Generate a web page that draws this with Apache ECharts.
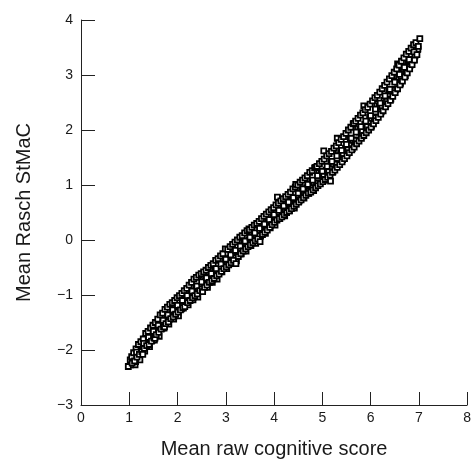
<!DOCTYPE html>
<html>
<head>
<meta charset="utf-8">
<script src="https://cdn.jsdelivr.net/npm/echarts@6/dist/echarts.min.js"></script>
<style>html,body{margin:0;padding:0;background:#fff;}#c{width:474px;height:464px;}</style>
</head>
<body>
<div id="c"></div>
<script>
const xTicks = [0, 1, 2, 3, 4, 5, 6, 7, 8];
const yTicks = [-3, -2, -1, 0, 1, 2, 3, 4];
const xTitle = 'Mean raw cognitive score';
const yTitle = 'Mean Rasch StMaC';

const rawScore = [
  0.98,1.02,1.05,1.06,1.09,1.11,
  1.14,1.16,1.15,1.19,1.21,1.24,1.26,1.28,
  1.29,1.31,1.30,1.34,1.36,1.39,1.41,1.40,
  1.44,1.46,1.49,1.51,1.50,1.53,1.54,1.56,
  1.59,1.61,1.60,1.64,1.66,1.69,1.71,1.70,1.73,
  1.74,1.76,1.79,1.81,1.80,1.84,1.86,1.89,1.91,1.90,
  1.94,1.96,1.99,2.01,2.00,2.04,2.06,2.09,2.11,2.10,
  2.14,2.15,2.19,2.21,2.20,2.24,2.26,2.29,2.31,2.30,
  2.34,2.36,2.39,2.41,2.40,2.44,2.46,2.49,2.51,2.50,2.52,
  2.54,2.56,2.59,2.61,2.60,2.64,2.66,2.69,2.71,2.70,
  2.74,2.76,2.79,2.81,2.80,2.84,2.86,2.89,2.91,2.90,
  2.94,2.96,2.99,3.01,3.00,3.04,3.06,3.09,3.11,3.10,
  3.14,3.16,3.19,3.21,3.20,3.24,3.26,3.29,3.31,3.30,
  3.34,3.36,3.39,3.41,3.40,3.44,3.46,3.48,3.49,3.51,3.50,
  3.54,3.56,3.59,3.61,3.60,3.64,3.66,3.69,3.71,3.70,
  3.74,3.76,3.79,3.81,3.80,3.84,3.86,3.89,3.91,3.90,
  3.94,3.96,3.99,4.01,4.00,4.04,4.06,4.07,4.09,4.11,4.10,
  4.14,4.16,4.19,4.21,4.20,4.24,4.26,4.29,4.31,4.30,
  4.34,4.36,4.39,4.41,4.40,4.44,4.46,4.45,4.49,4.51,4.50,
  4.54,4.56,4.59,4.61,4.60,4.64,4.66,4.69,4.71,4.70,
  4.74,4.76,4.79,4.81,4.80,4.84,4.86,4.86,4.89,4.91,4.90,
  4.94,4.96,4.99,5.01,5.00,5.03,5.04,5.06,5.09,5.11,5.10,
  5.14,5.16,5.17,5.19,5.21,5.20,5.24,5.26,5.29,5.31,5.30,5.31,
  5.34,5.36,5.39,5.41,5.40,5.44,5.46,5.49,5.51,5.50,
  5.54,5.56,5.59,5.61,5.60,5.64,5.65,5.66,5.69,5.71,5.70,
  5.74,5.76,5.79,5.81,5.80,5.84,5.86,5.86,5.89,5.91,5.90,
  5.94,5.96,5.99,6.01,6.00,6.04,6.06,6.09,6.11,6.10,
  6.14,6.16,6.19,6.21,6.20,6.24,6.26,6.29,6.31,6.30,
  6.34,6.36,6.39,6.41,6.40,6.44,6.46,6.49,6.51,6.50,
  6.54,6.56,6.56,6.59,6.61,6.60,6.64,6.66,6.69,6.71,6.70,
  6.74,6.76,6.79,6.81,6.80,6.84,6.86,6.89,6.91,6.90,6.94,6.96,6.99,7.02
];

const raschScore = [
  -2.30,-2.18,-2.12,-2.24,-2.05,-2.20,
  -1.98,-2.13,-2.04,-1.90,-2.08,-1.85,-2.03,-2.08,
  -1.80,-1.97,-1.88,-1.70,-1.92,-1.66,-1.90,-1.77,
  -1.60,-1.84,-1.55,-1.78,-1.66,-1.79,-1.50,-1.72,
  -1.44,-1.68,-1.55,-1.36,-1.62,-1.33,-1.58,-1.46,-1.58,
  -1.26,-1.52,-1.22,-1.49,-1.36,-1.17,-1.43,-1.14,-1.40,-1.27,
  -1.10,-1.35,-1.05,-1.31,-1.19,-1.01,-1.27,-0.97,-1.23,-1.10,
  -0.92,-1.21,-0.88,-1.14,-1.01,-0.82,-1.10,-0.77,-1.05,-0.93,
  -0.71,-1.01,-0.68,-0.98,-0.84,-0.64,-0.92,-0.61,-0.89,-0.76,-0.94,
  -0.58,-0.86,-0.55,-0.82,-0.69,-0.50,-0.77,-0.46,-0.74,-0.61,
  -0.43,-0.70,-0.37,-0.65,-0.52,-0.34,-0.62,-0.29,-0.57,-0.44,
  -0.25,-0.52,-0.16,-0.49,-0.35,-0.17,-0.45,-0.12,-0.41,-0.27,
  -0.08,-0.37,-0.04,-0.43,-0.19,0.00,-0.30,0.05,-0.25,-0.11,
  0.08,-0.20,0.13,-0.16,-0.02,0.17,-0.12,0.20,0.19,-0.09,0.05,
  0.23,-0.05,0.27,-0.01,0.13,0.30,0.02,0.34,-0.03,0.21,
  0.39,0.10,0.43,0.14,0.29,0.47,0.18,0.51,0.23,0.37,
  0.55,0.28,0.59,0.32,0.46,0.64,0.36,0.78,0.67,0.39,0.54,
  0.71,0.42,0.75,0.46,0.62,0.79,0.50,0.83,0.53,0.69,
  0.87,0.57,0.93,0.61,0.77,0.96,0.65,1.01,1.00,0.69,0.85,
  1.05,0.73,1.09,0.77,0.93,1.13,0.81,1.17,0.85,1.01,
  1.23,0.87,1.26,0.91,1.09,1.31,0.95,1.32,1.34,0.99,1.17,
  1.39,1.02,1.43,1.06,1.25,1.62,1.47,1.10,1.53,1.14,1.34,
  1.57,1.18,1.07,1.61,1.23,1.43,1.67,1.27,1.71,1.32,1.53,1.85,
  1.77,1.37,1.83,1.42,1.63,1.88,1.48,1.94,1.53,1.74,
  2.00,1.59,2.05,1.64,1.85,2.11,2.12,1.69,2.16,1.75,1.96,
  2.21,1.80,2.27,1.85,2.06,2.31,1.90,2.44,2.37,1.95,2.16,
  2.41,2.00,2.47,2.05,2.26,2.53,2.11,2.59,2.17,2.38,
  2.63,2.23,2.69,2.29,2.49,2.75,2.35,2.81,2.42,2.62,
  2.87,2.48,2.93,2.54,2.74,2.99,2.61,3.05,2.68,2.87,
  3.11,2.75,3.20,3.18,2.82,3.01,3.25,2.89,3.31,2.96,3.14,
  3.38,3.04,3.43,3.11,3.28,3.49,3.19,3.55,3.27,3.42,3.59,3.37,3.52,3.66
];

// further participants in the middle of the band
const rawScoreB = [
  1.03,1.08,1.13,1.18,1.23,1.28,1.33,1.38,1.43,1.48,
  1.53,1.58,1.63,1.68,1.73,1.78,1.83,1.88,1.93,1.98,
  2.03,2.08,2.13,2.18,2.23,2.28,2.33,2.38,2.43,2.48,
  2.53,2.58,2.63,2.68,2.73,2.78,2.83,2.88,2.93,2.98,
  3.03,3.08,3.13,3.18,3.23,3.28,3.33,3.38,3.43,3.48,
  3.53,3.58,3.63,3.68,3.73,3.78,3.83,3.88,3.93,3.98,
  4.03,4.08,4.13,4.18,4.23,4.28,4.33,4.38,4.43,4.48,
  4.53,4.58,4.63,4.68,4.73,4.78,4.83,4.88,4.93,4.98,
  5.03,5.08,5.13,5.18,5.23,5.28,5.33,5.38,5.43,5.48,
  5.53,5.58,5.63,5.68,5.73,5.78,5.83,5.88,5.93,5.98,
  6.03,6.08,6.13,6.18,6.23,6.28,6.33,6.38,6.43,6.48,
  6.53,6.58,6.63,6.68,6.73,6.78,6.83,6.88,6.93,6.98
];
const raschScoreB = [
  -2.27,-2.17,-2.21,-2.01,-2.04,-2.01,-1.80,-1.83,-1.84,-1.74,
  -1.77,-1.58,-1.61,-1.60,-1.38,-1.41,-1.44,-1.34,-1.38,-1.20,
  -1.24,-1.25,-1.02,-1.06,-1.09,-0.99,-1.04,-0.85,-0.89,-0.91,
  -0.69,-0.73,-0.77,-0.67,-0.71,-0.53,-0.57,-0.58,-0.35,-0.39,
  -0.43,-0.33,-0.38,-0.20,-0.24,-0.25,-0.02,-0.06,-0.10,0.00,
  -0.05,0.12,0.08,0.07,0.29,0.25,0.21,0.32,0.27,0.45,
  0.41,0.39,0.61,0.57,0.53,0.63,0.58,0.76,0.72,0.71,
  0.93,0.89,0.85,0.95,0.90,1.08,1.04,1.03,1.25,1.21,
  1.17,1.27,1.24,1.42,1.38,1.38,1.62,1.59,1.57,1.67,
  1.64,1.83,1.81,1.81,2.05,2.01,1.98,2.10,2.06,2.24,
  2.21,2.22,2.47,2.44,2.42,2.54,2.52,2.72,2.71,2.72,
  2.97,2.95,2.94,3.07,3.05,3.26,3.24,3.27,3.51,3.47
];

// further participants along the lower (right-hand) edge of the band
const rawScoreC = [
  1.07,1.12,1.17,1.22,1.27,1.32,1.37,1.42,1.47,1.52,
  1.57,1.62,1.67,1.72,1.77,1.82,1.87,1.92,1.97,2.02,
  2.07,2.12,2.17,2.22,2.27,2.32,2.37,2.42,2.47,2.52,
  2.57,2.62,2.67,2.72,2.77,2.82,2.87,2.92,2.97,3.02,
  3.07,3.12,3.17,3.22,3.27,3.32,3.37,3.42,3.47,3.52,
  3.57,3.62,3.67,3.72,3.77,3.82,3.87,3.92,3.97,4.02,
  4.07,4.12,4.17,4.22,4.27,4.32,4.37,4.42,4.47,4.52,
  4.57,4.62,4.67,4.72,4.77,4.82,4.87,4.92,4.97,5.02,
  5.07,5.12,5.17,5.22,5.27,5.32,5.37,5.42,5.47,5.52,
  5.57,5.62,5.67,5.72,5.77,5.82,5.87,5.92,5.97,6.02,
  6.07,6.12,6.17,6.22,6.27,6.32,6.37,6.42,6.47,6.52,
  6.57,6.62,6.67,6.72,6.77,6.82,6.87,6.92,6.97
];
const raschScoreC = [
  -2.24,-2.27,-2.11,-2.18,-2.02,-2.02,-1.87,-1.94,-1.83,-1.82,
  -1.68,-1.75,-1.60,-1.60,-1.46,-1.53,-1.43,-1.44,-1.31,-1.38,
  -1.24,-1.24,-1.11,-1.18,-1.08,-1.09,-0.96,-1.04,-0.90,-0.91,
  -0.78,-0.86,-0.76,-0.77,-0.63,-0.71,-0.57,-0.58,-0.45,-0.52,
  -0.42,-0.43,-0.30,-0.38,-0.24,-0.25,-0.12,-0.20,-0.09,-0.10,
  0.02,-0.06,0.08,0.07,0.20,0.12,0.23,0.22,0.35,0.27,
  0.40,0.39,0.52,0.44,0.54,0.53,0.66,0.58,0.72,0.71,
  0.84,0.76,0.86,0.85,0.98,0.90,1.04,1.03,1.16,1.08,
  1.18,1.18,1.31,1.24,1.39,1.39,1.54,1.46,1.57,1.58,
  1.73,1.66,1.81,1.82,1.96,1.89,2.00,2.00,2.14,2.07,
  2.23,2.24,2.39,2.33,2.45,2.47,2.62,2.56,2.73,2.74,
  2.90,2.85,2.97,2.99,3.15,3.18,3.28,3.35,3.46
];

const points = [];
for (let i = 0; i < Math.min(rawScoreC.length, raschScoreC.length); i++) points.push([rawScoreC[i], raschScoreC[i]]);
for (let i = 0; i < Math.min(rawScoreB.length, raschScoreB.length); i++) points.push([rawScoreB[i], raschScoreB[i]]);
for (let i = 0; i < Math.min(rawScore.length, raschScore.length); i++) points.push([rawScore[i], raschScore[i]]);

const font = '"Liberation Sans", Arial, Helvetica, sans-serif';
const chart = echarts.init(document.getElementById('c'), null, {renderer: 'canvas'});
chart.setOption({
  animation: false,
  backgroundColor: '#ffffff',
  grid: {left: 81, right: 5, top: 20, bottom: 54, containLabel: false},
  xAxis: {
    type: 'value', min: xTicks[0], max: xTicks[xTicks.length - 1], interval: 1,
    name: xTitle, nameLocation: 'middle', nameGap: 34,
    nameTextStyle: {fontFamily: font, fontSize: 20, color: '#1a1a1a'},
    axisLine: {show: true, onZero: false, lineStyle: {color: '#222', width: 1}},
    axisTick: {show: true, inside: true, length: 13, lineStyle: {color: '#222', width: 1}},
    axisLabel: {fontFamily: font, fontSize: 14, color: '#1a1a1a', margin: 6},
    splitLine: {show: false}
  },
  yAxis: {
    type: 'value', min: yTicks[0], max: yTicks[yTicks.length - 1], interval: 1,
    name: yTitle, nameLocation: 'middle', nameGap: 47,
    nameTextStyle: {fontFamily: font, fontSize: 20, color: '#1a1a1a'},
    axisLine: {show: true, onZero: false, lineStyle: {color: '#222', width: 1}},
    axisTick: {show: true, inside: true, length: 14, lineStyle: {color: '#222', width: 1}},
    axisLabel: {fontFamily: font, fontSize: 14, color: '#1a1a1a', margin: 8,
      formatter: v => (v < 0 ? '\u2212' + Math.abs(v) : String(v))},
    splitLine: {show: false}
  },
  series: [{
    type: 'scatter',
    data: points,
    symbol: 'rect',
    symbolSize: 5,
    itemStyle: {color: '#ffffff', borderColor: '#000000', borderWidth: 1.8, opacity: 1}
  }]
});
</script>
</body>
</html>
